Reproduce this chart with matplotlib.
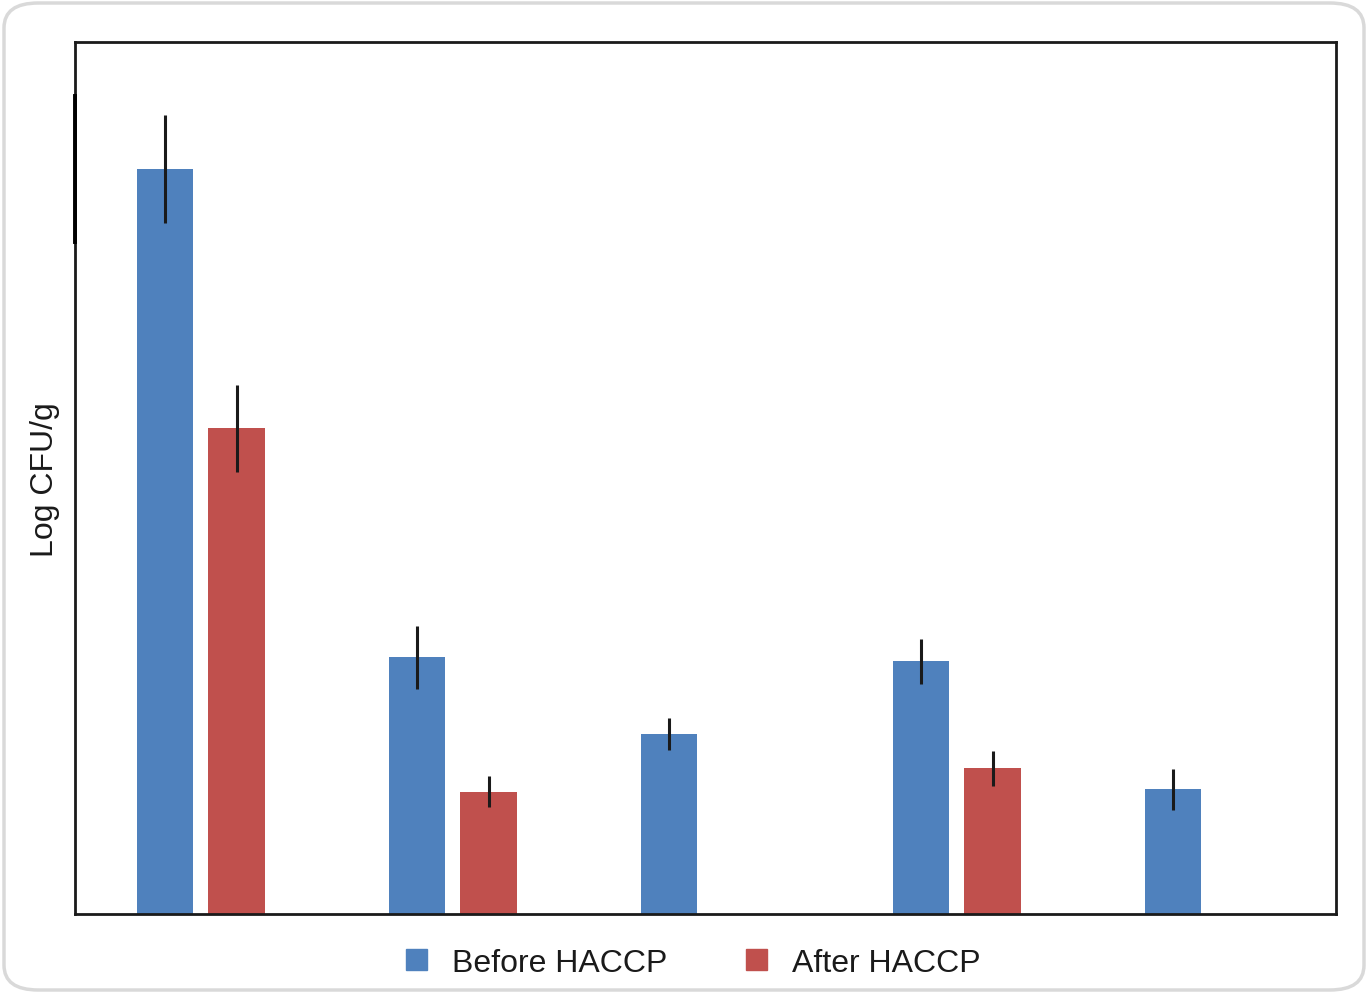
import matplotlib.pyplot as plt
import matplotlib.patches as patches
import numpy as np

plt.rcParams['font.family'] = ['Liberation Sans Narrow', 'Liberation Sans', 'DejaVu Sans']

# data (Log CFU/g)
groups = [0, 1, 2, 3, 4]
before_vals = [5.98, 2.06, 1.445, 2.03, 1.00]
before_err = [0.43, 0.25, 0.13, 0.18, 0.165]
after_groups = [0, 1, 3]
after_vals = [3.90, 0.98, 1.17]
after_err = [0.35, 0.125, 0.14]

blue = '#4F81BD'
red = '#C0504D'
bar_w = 0.224
offset = 0.284

fig = plt.figure(figsize=(13.68, 9.95), dpi=100)
ax = fig.add_axes([75 / 1368, 1 - 915 / 995, (1336 - 75) / 1368, (915 - 43) / 995])

ax.bar(groups, before_vals, width=bar_w, color=blue, label='Before HACCP', zorder=2)
ax.bar(np.array(after_groups) + offset, after_vals, width=bar_w, color=red, label='After HACCP', zorder=2)
ax.errorbar(groups, before_vals, yerr=before_err, fmt='none', ecolor='#1a1a1a',
            elinewidth=2.2, capsize=0, zorder=3)
ax.errorbar(np.array(after_groups) + offset, after_vals, yerr=after_err, fmt='none',
            ecolor='#1a1a1a', elinewidth=2.2, capsize=0, zorder=3)

ax.set_xlim(-0.357, 4.647)
ax.set_ylim(0, 7)
ax.set_xticks([])
ax.set_yticks([])
for s in ax.spines.values():
    s.set_linewidth(2.0)
    s.set_color('#1a1a1a')
# darker stretch on the left spine, as in the source image
ax.axvline(-0.357, ymin=(915 - 243) / 872, ymax=(915 - 97) / 872, color='black',
           linewidth=2.8, clip_on=False, zorder=4)

fig.text(45 / 1368, 1 - 480 / 995, 'Log CFU/g', rotation=90, ha='center', va='center',
         fontsize=23, color='#1a1a1a')

handles = [patches.Patch(color=blue), patches.Patch(color=red)]
fig.legend(handles, ['Before HACCP', 'After HACCP'], loc='center',
           bbox_to_anchor=(0.507, 1 - 964 / 995), ncol=2, frameon=False,
           fontsize=23, handlelength=0.65, handleheight=0.65, handletextpad=0.8,
           columnspacing=2.45, labelcolor='#1a1a1a')

# rounded outer frame
frame = patches.FancyBboxPatch((4 / 1368, 4 / 995), 1360 / 1368, 987 / 995,
                               boxstyle='round,pad=0,rounding_size=0.025',
                               transform=fig.transFigure, fill=False,
                               edgecolor='#d9d9d9', linewidth=2.5)
fig.patches.append(frame)

fig.savefig('out.png', dpi=100)
